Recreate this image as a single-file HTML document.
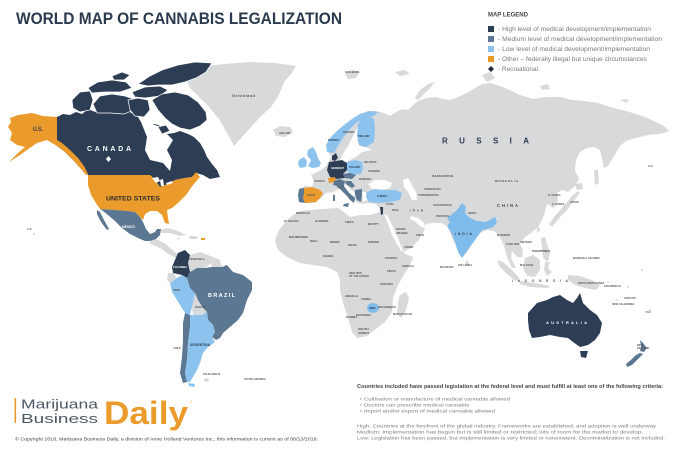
<!DOCTYPE html>
<html>
<head>
<meta charset="utf-8">
<style>
html,body{margin:0;padding:0;background:#fff;}
svg{display:block;}
text{font-family:"Liberation Sans",sans-serif;}
.t{font-weight:bold;font-size:3px;fill:#4a4a4a;}
.s{font-weight:bold;font-size:2.6px;fill:#555;}
.lg{font-size:6px;fill:#7a7a7a;}
.ft{font-size:4.6px;fill:#7b7b7b;}
</style>
</head>
<body>
<svg width="680" height="451" viewBox="0 0 680 451" xmlns="http://www.w3.org/2000/svg">
<rect width="680" height="451" fill="#fff"/>

<!-- Title -->
<text x="16" y="24" font-size="17" font-weight="bold" fill="#2b3a4e" textLength="326" lengthAdjust="spacingAndGlyphs">WORLD MAP OF CANNABIS LEGALIZATION</text>

<!-- ===== Gray base lands ===== -->
<g fill="#d8d9db">
<!-- Greenland -->
<polygon points="186,80 193,72 205,66 225,64 250,62 275,63 296,66 291,74 284,82 279,95 271,107 261,116 251,127 242,137 234,146 227,133 219,119 209,107 199,97 191,89"/>
<!-- Iceland -->
<polygon points="273,130 280,126 290,127 293,132 285,137 276,136"/>
<!-- Arctic islands -->
<polygon points="345,73 352,70 360,72 356,78 348,79"/>
<polygon points="395,72 405,70 410,74 400,76"/>
<polygon points="415,98 420,90 428,84 435,82 430,88 423,95 418,100"/>
<polygon points="482,75 490,72 495,78 487,82"/>
<polygon points="540,86 548,84 550,89 542,90"/>
<polygon points="620,100 628,99 627,103"/>
<!-- Eurasia -->
<polygon points="299,202 298,195 300,188 306,186 312,187 314,181 311,175 318,172 325,167 329,161 331,156 328,152 327,145 331,137 338,130 345,124 352,119 360,114 368,111 376,111 384,113 390,116 396,112 402,109 408,110 414,104 420,100 427,98 435,97 443,99 450,100 458,97 467,93 475,88 482,84 490,83 500,86 510,90 520,95 533,99 546,97 560,97 572,100 585,101 598,103 610,107 622,110 633,113 645,117 656,122 664,126 669,131 660,134 648,135 636,138 626,141 620,146 614,156 608,166 604,168 602,158 600,150 594,147 587,148 580,152 576,160 575,170 579,179 575,186 568,192 562,190 557,193 558,200 556,206 552,208 549,204 546,206 545,212 542,220 538,227 531,233 524,238 520,244 523,250 522,257 517,257 512,251 511,258 516,268 512,268 507,257 504,246 500,237 494,231 487,230 480,233 473,243 467,252 462,258 457,248 452,237 447,226 441,223 433,223 426,224 424,231 419,240 411,248 403,252 400,247 396,236 391,224 386,216 383,212 379,208 376,204 369,203 363,204 358,203 353,199 348,196 343,191 339,189 333,192 326,193 321,198 315,203 306,203"/>
<!-- Sakhalin, Japan, Taiwan, SL -->
<polygon points="594,170 598,170 599,183 595,185"/>
<polygon points="575,184 582,183 583,189 577,190"/>
<polygon points="578,191 580,193 576,198 572,203 567,210 561,216 556,222 552,227 549,224 554,217 561,209 567,202 572,196"/>
<polygon points="537,228 539,226 540,231 537,232"/>
<polygon points="466,260 469,262 468,266 465,264"/>
<!-- SE Asia islands -->
<polygon points="497,260 503,262 512,270 519,278 516,281 508,275 500,267"/>
<polygon points="520,281 535,283 550,286 548,288 530,287 520,284"/>
<polygon points="525,258 533,255 540,260 540,270 535,277 527,276 523,268"/>
<polygon points="545,262 550,262 548,268 552,272 547,276 544,270"/>
<polygon points="568,275 580,276 592,280 600,285 596,290 585,288 575,285 568,280"/>
<polygon points="541,238 545,237 547,244 550,252 548,262 543,258 542,248"/>
<!-- Africa -->
<polygon points="287,220 293,215 300,211 310,210 322,209 338,208 345,213 350,217 360,215 370,215 380,212 385,213 388,222 393,236 400,246 405,254 413,257 410,265 405,273 398,285 393,298 392,312 385,322 377,328 367,336 357,338 352,332 348,318 343,303 340,290 340,280 337,272 327,267 313,265 300,263 287,257 278,250 275,240 279,230"/>
<polygon points="400,295 406,292 409,298 406,310 401,318 397,313 398,302"/>
<!-- Caribbean / Central America -->
<polygon points="150,241 156,239 160,241 166,244 170,248 175,252 178,255 176,258 172,256 167,253 162,249 155,246 150,244"/>
<polygon points="160,230 168,228 178,231 186,235 180,236 170,233 162,233"/>
<polygon points="189,236 196,236 198,239 190,239"/>
<polygon points="176,238 180,238 179,240"/>
<!-- South America gray -->
<polygon points="190,255 200,252 208,255 212,262 205,268 197,268 190,272 188,263"/>
<polygon points="208,255 220,260 222,267 212,267"/>
<polygon points="168,273 173,273 177,278 170,283 167,280"/>
<polygon points="195,293 198,300 203,308 207,312 202,315 193,315 192,307"/>
<polygon points="204,379 208,378 209,381 205,382"/>
<!-- small Pacific dots -->
<circle cx="34" cy="234" r="1"/>
<circle cx="608" cy="282" r="1"/>
<circle cx="617" cy="300" r="1"/>
<circle cx="628" cy="287" r="1"/>
<circle cx="650" cy="310" r="1"/>
<circle cx="642" cy="270" r="1"/>
</g>

<!-- ===== Water overlays ===== -->
<g fill="#fff">
<polygon points="340,160 344,152 348,146 352,138 356,130 358,126 360,133 357,140 360,146 368,148 372,150 362,152 356,157 350,160 345,163"/>
<polygon points="368,184 375,180 385,180 392,183 390,188 380,190 372,189"/>
<polygon points="403,180 408,178 412,185 416,192 417,200 412,200 408,192 404,187"/>
<polygon points="341,183 345,184 350,189 355,193 356,197 352,195 347,190 342,186"/>
<polygon points="362,192 366,192 367,200 363,202"/>
<polygon points="411,216 418,218 424,223 426,228 421,227 416,222 410,219"/>
<polygon points="384,214 387,215 392,225 397,236 401,246 403,251 401,251 397,244 392,235 388,224"/>
</g>

<!-- ===== Canada ===== -->
<g fill="#2c3d54">
<polygon points="57,117 63,114 70,115 76,112 82,114 88,109 95,112 102,109 108,112 114,108 120,112 127,110 133,114 138,117 141,122 143,127 155,124 163,127 167,134 174,133 180,131 188,134 194,137 200,143 204,150 207,157 212,164 217,170 220,177 210,179 203,175 196,173 192,177 185,178 175,180 168,184 160,187 155,180 150,175 88,175 83,170 75,162 65,152 57,146"/>
</g>
<polygon fill="#fff" points="143,127 147,137 145,150 150,160 163,163 170,171 172,160 167,150 173,140 167,134 163,128 155,125 148,124"/>
<g fill="#2c3d54" stroke="#fff" stroke-width="0.7">
<polygon points="72,100 80,92 90,91 93,100 90,110 80,112 73,108"/>
<polygon points="93,104 100,96 112,94 125,96 136,100 134,110 124,114 110,113 97,113"/>
<polygon points="88,88 98,82 112,80 126,82 132,88 120,92 104,92 92,93"/>
<polygon points="132,92 145,87 160,86 168,90 160,96 145,98 135,97"/>
<polygon points="138,84 150,76 162,70 178,65 195,62 212,63 206,72 196,78 185,82 172,85 158,85 148,86"/>
<polygon points="128,100 138,98 148,100 150,110 144,117 135,116 130,110"/>
<polygon points="152,100 162,94 175,92 188,95 198,102 206,112 207,120 200,126 190,130 180,128 172,124 165,118 158,110"/>
<polygon points="158,127 166,125 170,131 162,134"/>
<polygon points="112,76 122,72 130,75 124,80 114,80"/>
</g>

<!-- ===== USA ===== -->
<g fill="#eb9b2b">
<polygon points="88,175 150,175 155,180 160,187 168,184 175,180 185,178 192,177 196,172 200,177 193,185 186,195 178,203 172,208 167,210 168,218 169,224 165,223 162,215 157,211 150,211 145,214 143,220 140,217 135,212 127,211 115,210 100,209 96,203 91,195 88,185"/>
<polygon points="10,118 18,115 32,113 43,116 57,117 57,140 62,143 70,150 78,158 84,166 88,174 86,175 80,168 73,160 65,152 57,146 47,140 37,143 27,150 17,157 9,162 18,153 25,147 17,145 10,140 12,133 8,127 11,122"/>
<polygon points="201,238 205,238 205,240 201,240"/>
</g>
<!-- Great lakes -->
<g fill="#fff">
<polygon points="152,178 158,177 160,181 156,183"/>
<polygon points="160,180 163,179 164,186 161,186"/>
<polygon points="166,183 172,181 173,183 167,185"/>
</g>

<!-- ===== Mexico ===== -->
<g fill="#5b7791">
<polygon points="100,209 115,210 127,211 135,212 140,217 143,222 146,229 150,234 155,232 157,229 161,229 160,235 156,239 150,241 145,241 138,238 130,234 122,228 115,221 108,215 103,211"/>
<polygon points="97,210 100,212 104,220 109,229 107,230 101,222 97,214"/>
</g>

<!-- ===== South America ===== -->
<polygon fill="#2c3d54" points="178,253 185,250 190,255 188,263 190,272 187,278 182,275 173,273 172,267 175,260"/>
<polygon fill="#8cc3ee" points="170,283 177,278 182,275 187,278 190,288 195,293 192,307 190,315 185,313 177,300 172,292"/>
<polygon fill="#5b7791" points="187,278 190,272 197,268 205,268 212,267 222,267 227,265 233,272 243,275 252,282 252,290 247,300 243,313 238,320 230,327 223,333 220,338 215,332 213,325 208,320 207,312 203,308 198,300 195,293 190,288"/>
<polygon fill="#8cc3ee" points="207,312 208,320 213,325 208,325 203,318 202,315"/>
<polygon fill="#5b7791" points="185,313 190,315 190,327 188,343 187,360 185,373 187,382 183,383 180,373 182,357 183,340 183,323"/>
<polygon fill="#8cc3ee" points="190,315 193,315 202,315 203,318 208,325 213,325 215,332 212,337 215,342 208,347 203,353 200,363 197,370 193,377 190,382 187,382 185,373 187,360 188,343 190,327"/>
<polygon fill="#5b7791" points="215,332 220,338 216,340 212,337"/>
<polygon fill="#8cc3ee" points="188,383 195,384 194,387 189,386"/>

<!-- ===== Europe colored ===== -->
<polygon fill="#8cc3ee" points="327,152 326,145 330,138 337,131 344,125 352,119 360,114 370,111 378,112 374,116 364,118 356,123 349,130 343,138 338,146 334,153"/>
<polygon fill="#8cc3ee" points="358,124 362,118 368,116 374,119 375,130 374,142 366,147 359,145 357,135"/>
<polygon fill="#8cc3ee" points="308,150 313,147 316,152 318,158 321,163 319,167 312,168 308,166 311,160 307,155"/>
<polygon fill="#8cc3ee" points="299,160 304,157 307,161 306,167 300,168 298,164"/>
<polygon fill="#2c3d54" points="332,156 336,153 338,158 335,161 332,160"/>
<polygon fill="#2c3d54" points="329,162 336,161 342,160 347,163 347,170 343,174 345,178 336,179 330,177 327,170"/>
<polygon fill="#8cc3ee" points="347,162 355,160 362,162 363,168 361,174 352,175 347,171"/>
<polygon fill="#5b7791" points="343,174 350,173 356,175 352,179 345,178"/>
<polygon fill="#eb9b2b" points="328,178 335,177 336,182 329,183"/>
<polygon fill="#eb9b2b" points="304,188 312,187 320,190 323,193 320,198 316,202 305,203 303,198 304,193"/>
<polygon fill="#5b7791" points="299,189 304,188 304,193 303,198 305,203 299,202 298,195"/>
<polygon fill="#5b7791" points="334,181 339,179 345,181 344,186 349,193 355,198 354,203 350,200 347,196 342,191 337,186 333,185"/>
<polygon fill="#5b7791" points="344,204 349,203 348,207 343,206"/>
<polygon fill="#5b7791" points="333,195 335,195 335,201 333,201"/>
<polygon fill="#5b7791" points="345,181 351,181 355,186 352,188 346,184"/>
<polygon fill="#5b7791" points="355,190 362,189 362,195 361,202 357,200 355,195"/>
<polygon fill="#8cc3ee" points="367,192 375,189 385,190 395,190 402,193 400,200 390,202 378,203 369,202 366,197"/>
<polygon fill="#2c3d54" points="380,207 383,207 383,214 381,215"/>

<!-- ===== India, Zimbabwe ===== -->
<polygon fill="#7fbcec" points="462,203 466,207 465,213 470,218 477,221 485,222 490,220 495,217 497,222 493,227 487,229 482,230 478,236 472,244 467,251 462,258 458,252 455,242 451,232 447,226 450,222 447,218 452,214 457,210"/>
<ellipse fill="#7fbcec" cx="373" cy="308" rx="6" ry="5"/>

<!-- ===== Australia / NZ ===== -->
<polygon fill="#2c3d54" points="528,313 537,303 547,300 553,297 560,295 567,300 573,303 577,298 580,293 583,303 590,310 597,315 602,323 600,333 595,340 588,345 580,347 573,342 568,338 560,337 550,335 540,337 532,338 529,330 528,320"/>
<polygon fill="#2c3d54" points="580,351 588,351 586,358 581,357"/>
<polygon fill="#5b7791" points="640,340 643,343 647,348 644,352 640,351 641,346"/>
<polygon fill="#5b7791" points="640,353 643,354 637,360 632,365 627,367 626,364 632,359 636,355"/>

<!-- ===== Labels ===== -->
<text x="33" y="131" font-size="6" font-weight="bold" fill="#2b3a4e" textLength="10" lengthAdjust="spacingAndGlyphs">U.S.</text>
<text x="87" y="151" font-size="7" font-weight="bold" fill="#fff" textLength="44" lengthAdjust="spacing">CANADA</text>
<polygon fill="#fff" points="108.5,156 111,159 108.5,162 106,159"/>
<text x="106" y="200.5" font-size="6.4" font-weight="bold" fill="#2f2f2f" textLength="54" lengthAdjust="spacingAndGlyphs">UNITED STATES</text>
<text x="122" y="228" font-size="3.3" font-weight="bold" fill="#fff" textLength="13">MEXICO</text>
<text x="232" y="97" font-size="4" font-weight="bold" fill="#555" textLength="23">Greenland</text>
<text x="442" y="143.5" font-size="8" font-weight="bold" fill="#2b3a4e" textLength="87" lengthAdjust="spacing">RUSSIA</text>
<text x="432" y="177" class="t" textLength="21">KAZAKHSTAN</text>
<text x="495" y="182" class="t" textLength="23" lengthAdjust="spacing">MONGOLIA</text>
<text x="497" y="207" font-size="4.2" font-weight="bold" fill="#444" textLength="21" lengthAdjust="spacing">CHINA</text>
<text x="455" y="235" font-size="3.4" font-weight="bold" fill="#2b3a4e" textLength="17" lengthAdjust="spacing">INDIA</text>
<text x="410" y="211.5" class="t" textLength="13" lengthAdjust="spacing">IRAN</text>
<text x="532" y="252" class="t" textLength="18">PHILIPPINES</text>
<text x="512" y="282" font-size="3.4" font-weight="bold" fill="#555" textLength="56" lengthAdjust="spacing">INDONESIA</text>
<text x="546" y="324" font-size="4" font-weight="bold" fill="#fff" textLength="41" lengthAdjust="spacing">AUSTRALIA</text>
<text x="208" y="297" font-size="5.5" font-weight="bold" fill="#fff" textLength="27" lengthAdjust="spacing">BRAZIL</text>
<text x="190" y="346" font-size="3.2" font-weight="bold" fill="#2b3a4e" textLength="20">ARGENTINA</text>
<text x="173" y="291" class="s" fill="#2b3a4e">PERU</text>
<text x="173" y="268" class="s" style="fill:#fff">COLOMBIA</text>
<text x="195" y="308" class="s">BOLIVIA</text>
<text x="173" y="349" class="s">CHILE</text>
<text x="189" y="260" class="s">VENEZUELA</text>
<text x="203" y="375" class="s">FALKLAND IS.</text>
<text x="244" y="380" class="s">SOUTH GEORGIA</text>
<text x="27" y="230" class="s">U.S.</text>
<text x="284" y="222" class="s">W. SAHARA</text>
<text x="296" y="214" class="s">MOROCCO</text>
<text x="315" y="222" class="t">ALGERIA</text>
<text x="345" y="223" class="t">LIBYA</text>
<text x="368" y="225" class="t">EGYPT</text>
<text x="368" y="243" class="t">SUDAN</text>
<text x="310" y="242" class="t">MALI</text>
<text x="330" y="243" class="t">NIGER</text>
<text x="348" y="246" class="t">CHAD</text>
<text x="289" y="238" class="t">MAURITANIA</text>
<text x="385" y="259" class="s">ETHIOPIA</text>
<text x="402" y="267" class="s">SOMALIA</text>
<text x="387" y="272" class="s">KENYA</text>
<text x="349" y="274" class="s">DEM. REP.</text>
<text x="349" y="277" class="s">OF THE CONGO</text>
<text x="323" y="257" class="s">NIGERIA</text>
<text x="380" y="285" class="s">TANZANIA</text>
<text x="345" y="297" class="t">ANGOLA</text>
<text x="361" y="300" class="s">ZAMBIA</text>
<text x="369" y="309" class="s" style="fill:#2b3a4e">ZIMB.</text>
<text x="378" y="308" class="s">MOZAMBIQUE</text>
<text x="346" y="318" class="s">NAMIBIA</text>
<text x="356" y="316" class="s">BOTSWANA</text>
<text x="393" y="315" class="s">MADAGASCAR</text>
<text x="358" y="330" class="t">SOUTH</text>
<text x="358" y="334" class="t">AFRICA</text>
<text x="396" y="230" class="t">SAUDI</text>
<text x="396" y="234" class="t">ARABIA</text>
<text x="404" y="248" class="s">YEMEN</text>
<text x="416" y="236" class="s">OMAN</text>
<text x="392" y="211" class="s">IRAQ</text>
<text x="386" y="205" class="s">SYRIA</text>
<text x="433" y="206" class="s">AFGHANISTAN</text>
<text x="436" y="217" class="s">PAKISTAN</text>
<text x="418" y="196" class="s">TURKMENISTAN</text>
<text x="424" y="190" class="s">UZBEKISTAN</text>
<text x="468" y="214" class="s">NEPAL</text>
<text x="497" y="236" class="s">MYANMAR</text>
<text x="506" y="245" class="s">THAILAND</text>
<text x="520" y="243" class="s">VIETNAM</text>
<text x="520" y="266" class="s">MALAYSIA</text>
<text x="548" y="196" class="s">N. KOREA</text>
<text x="552" y="205" class="s">S. KOREA</text>
<text x="570" y="203" class="s">JAPAN</text>
<text x="578" y="284" class="s">PAPUA NEW GUINEA</text>
<text x="458" y="266" class="s">SRI LANKA</text>
<text x="440" y="268" class="s">MALDIVES</text>
<text x="573" y="259" class="s">MARSHALL ISLANDS</text>
<text x="604" y="287" class="s">SOLOMON IS.</text>
<text x="624" y="299" class="s">VANUATU</text>
<text x="612" y="305" class="s">NEW CALEDONIA</text>
<text x="646" y="313" class="s">FIJI</text>
<text x="637" y="346" class="s">NEW</text>
<text x="637" y="349" class="s">ZEALAND</text>
<text x="279" y="134" class="s">ICELAND</text>
<text x="328" y="141" class="s" style="fill:#2b3a4e">NORWAY</text>
<text x="343" y="133" class="s">SWEDEN</text>
<text x="358" y="137" class="s" style="fill:#2b3a4e">FINLAND</text>
<text x="331" y="169" class="s" style="fill:#fff">GERMANY</text>
<text x="349" y="168" class="s" style="fill:#2b3a4e">POLAND</text>
<text x="314" y="182" class="s">FRANCE</text>
<text x="307" y="196" class="s">SPAIN</text>
<text x="337" y="188" class="s">ITALY</text>
<text x="377" y="197" class="s" style="fill:#2b3a4e">TURKEY</text>
<text x="368" y="172" class="s">UKRAINE</text>
<text x="364" y="163" class="s">BELARUS</text>
<text x="359" y="180" class="s">ROMANIA</text>
<text x="345" y="73" class="s">SVALBARD</text>
<text x="648" y="167" class="s">U.S.</text>

<!-- ===== Legend ===== -->
<text x="488" y="16.5" font-size="6" font-weight="bold" fill="#444" textLength="40" lengthAdjust="spacingAndGlyphs">MAP LEGEND</text>
<rect x="488" y="26" width="6" height="6" fill="#2c3d54"/>
<rect x="488" y="36" width="6" height="6" fill="#5b7791"/>
<rect x="488" y="46" width="6" height="6" fill="#8cc3ee"/>
<rect x="488" y="56" width="6" height="6" fill="#eb9b2b"/>
<polygon points="491,66 494,69 491,72 488,69" fill="#1f2b3a"/>
<text x="498" y="31" class="lg" textLength="153" lengthAdjust="spacingAndGlyphs">- High level of medical development/implementation</text>
<text x="498" y="41" class="lg" textLength="164" lengthAdjust="spacingAndGlyphs">- Medium level of medical development/implementation</text>
<text x="498" y="51" class="lg" textLength="152" lengthAdjust="spacingAndGlyphs">- Low level of medical development/implementation</text>
<text x="498" y="61" class="lg" textLength="149" lengthAdjust="spacingAndGlyphs">- Other – federally illegal but unique circumstances</text>
<text x="498" y="71" class="lg" textLength="40" lengthAdjust="spacingAndGlyphs">- Recreational</text>

<!-- ===== Logo ===== -->
<rect x="14.5" y="398" width="1.6" height="25" fill="#eb9b2b"/>
<text x="21" y="408.5" font-size="13" fill="#4b5866" textLength="77" lengthAdjust="spacingAndGlyphs">Marijuana</text>
<text x="21" y="423" font-size="13" fill="#4b5866" textLength="77" lengthAdjust="spacingAndGlyphs">Business</text>
<text x="104" y="424" font-size="32" font-weight="bold" fill="#eb9b2b" textLength="84" lengthAdjust="spacingAndGlyphs">Daily</text>
<text x="190" y="403" font-size="3" fill="#eb9b2b">®</text>
<text x="15" y="440.5" font-size="4.5" fill="#444" textLength="303" lengthAdjust="spacingAndGlyphs">© Copyright 2018, Marijuana Business Daily, a division of Anne Holland Ventures Inc.; this information is current as of 08/13/2018.</text>

<!-- ===== Footer text ===== -->
<text x="357" y="388" font-size="5" font-weight="bold" fill="#444" textLength="306" lengthAdjust="spacingAndGlyphs">Countries included have passed legislation at the federal level and must fulfill at least one of the following criteria:</text>
<text x="360" y="400.5" class="ft">•</text>
<text x="364" y="400.5" class="ft" textLength="146" lengthAdjust="spacingAndGlyphs">Cultivation or manufacture of medical cannabis allowed</text>
<text x="360" y="406.5" class="ft">•</text>
<text x="364" y="406.5" class="ft" textLength="105" lengthAdjust="spacingAndGlyphs">Doctors can prescribe medical cannabis</text>
<text x="360" y="412.5" class="ft">•</text>
<text x="364" y="412.5" class="ft" textLength="131" lengthAdjust="spacingAndGlyphs">Import and/or export of medical cannabis allowed</text>
<text x="357" y="427.5" class="ft" textLength="299" lengthAdjust="spacingAndGlyphs">High: Countries at the forefront of the global industry. Frameworks are established, and adoption is well underway</text>
<text x="357" y="433.5" class="ft" textLength="286" lengthAdjust="spacingAndGlyphs">Medium: Implementation has begun but is still limited or restricted; lots of room for the market to develop.</text>
<text x="357" y="439.5" class="ft" textLength="308" lengthAdjust="spacingAndGlyphs">Low: Legislation has been passed, but implementation is very limited or nonexistent. Decriminalization is not included.</text>
</svg>
</body>
</html>
